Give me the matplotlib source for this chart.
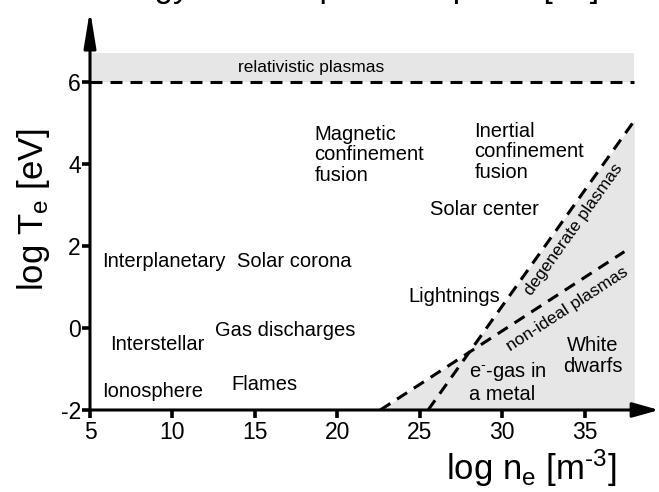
import matplotlib
matplotlib.use("Agg")
import matplotlib.pyplot as plt
import numpy as np

plt.rcParams["font.family"] = ["Liberation Sans", "DejaVu Sans"]
plt.rcParams["mathtext.fontset"] = "custom"
plt.rcParams["mathtext.rm"] = "Liberation Sans"
plt.rcParams["mathtext.it"] = "Liberation Sans:italic"
plt.rcParams["mathtext.bf"] = "Liberation Sans:bold"
plt.rcParams["axes.unicode_minus"] = False
plt.rcParams["lines.scale_dashes"] = False

# ---- data -------------------------------------------------------------
x_ticks = [5, 10, 15, 20, 25, 30, 35]
y_ticks = [-2, 0, 2, 4, 6]

n_min, n_max = 5.0, 38.0          # log n_e range of the shaded areas
T_min = -2.0
relativistic_T = 6.0              # log T_e above which plasmas are relativistic
relativistic_top = 6.7

degenerate_n = [25.5, 38.0]
degenerate_T = [-2.0, 5.05]
nonideal_n = [22.6, 37.4]
nonideal_T = [-2.0, 1.86]

region_labels = ["Magnetic\nconfinement\nfusion", "Inertial\nconfinement\nfusion",
                 "Solar center", "Interplanetary", "Solar corona", "Lightnings",
                 "Gas discharges", "Interstellar", "Ionosphere", "Flames",
                 r"e$^{\text{-}}$-gas in" + "\na metal", "White\ndwarfs"]
region_n = [18.6, 28.3, 25.6, 5.75, 13.9, 24.3, 12.6, 6.2, 5.75, 13.6, 28.0, 35.5]
region_T = [4.22, 4.30, 2.88, 1.63, 1.63, 0.76, -0.05, -0.41, -1.54, -1.37, -1.32, -0.68]
region_ha = ["left", "left", "left", "left", "left", "left", "left", "left",
             "left", "left", "left", "center"]

# ---- figure -----------------------------------------------------------
fig = plt.figure(figsize=(6.59, 4.92), dpi=100)
ax = fig.add_axes([90 / 659, 82 / 492, 569 / 659, 400 / 492])
ax.set_xlim(5, 39.5)
ax.set_ylim(-2, 7.75)
for s in ax.spines.values():
    s.set_visible(False)

shade = "#e6e6e6"
ax.fill_between([n_min, n_max], relativistic_T, relativistic_top,
                color=shade, lw=0, zorder=0)

n_grid = np.linspace(nonideal_n[0], n_max, 600)
upper = np.maximum(np.interp(n_grid, degenerate_n, degenerate_T, left=T_min),
                   np.interp(n_grid, nonideal_n, nonideal_T, left=T_min))
ax.fill_between(n_grid, T_min, upper, color=shade, lw=0, zorder=0)

dash = (8.6, 5.8)
ax.plot([n_min, n_max], [relativistic_T, relativistic_T], color="k", lw=2.2,
        dashes=dash, zorder=2)
ax.plot(degenerate_n, degenerate_T, color="k", lw=2.2, dashes=dash, zorder=2)
ax.plot(nonideal_n, nonideal_T, color="k", lw=2.2, dashes=dash, zorder=2)

# axes drawn as arrows
ax.annotate("", xy=(39.5, -2), xytext=(5, -2),
            arrowprops=dict(arrowstyle="-|>,head_length=1.6,head_width=0.45",
                            lw=2.2, color="k", shrinkA=0, shrinkB=0),
            annotation_clip=False, zorder=5)
ax.annotate("", xy=(5, 7.75), xytext=(5, -2),
            arrowprops=dict(arrowstyle="-|>,head_length=2.2,head_width=0.36",
                            lw=2.2, color="k", shrinkA=0, shrinkB=0),
            annotation_clip=False, zorder=5)

ax.set_xticks(x_ticks)
ax.set_yticks(y_ticks)
ax.tick_params(direction="out", length=6, width=2.6, labelsize=16.5, color="k")
ax.tick_params(axis="x", pad=2)
ax.tick_params(axis="y", pad=0.5)

# region names
for lab, n, T, ha in zip(region_labels, region_n, region_T, region_ha):
    ax.text(n, T, lab, ha=ha, va="center", fontsize=14.5,
            multialignment=ha, linespacing=1.1, zorder=3)

ax.text(18.4, 6.34, "relativistic plasmas", ha="center", va="center",
        fontsize=12.5, zorder=3)
ax.text(34.33, 2.39, "degenerate plasmas", ha="center", va="center",
        fontsize=12.5, rotation=54.5, rotation_mode="anchor", zorder=3)
ax.text(33.95, 0.46, "non-ideal plasmas", ha="center", va="center",
        fontsize=12.5, rotation=33, rotation_mode="anchor", zorder=3)

# axis titles
fig.text(33 / 659, 1 - 209 / 492, r"log T$_{\mathregular{e}}$ [eV]",
         rotation=90, ha="center", va="center", fontsize=25)
fig.text(531 / 659, 1 - 468 / 492, r"log n$_{\mathregular{e}}$ [m$^{\text{-3}}$]",
         ha="center", va="center", fontsize=25)

# heading, running off the top edge
fig.text(21 / 659, 1.006, "The energy and temperature plane [12]",
         ha="left", va="baseline", fontsize=24)

fig.savefig("out.png", dpi=100)
